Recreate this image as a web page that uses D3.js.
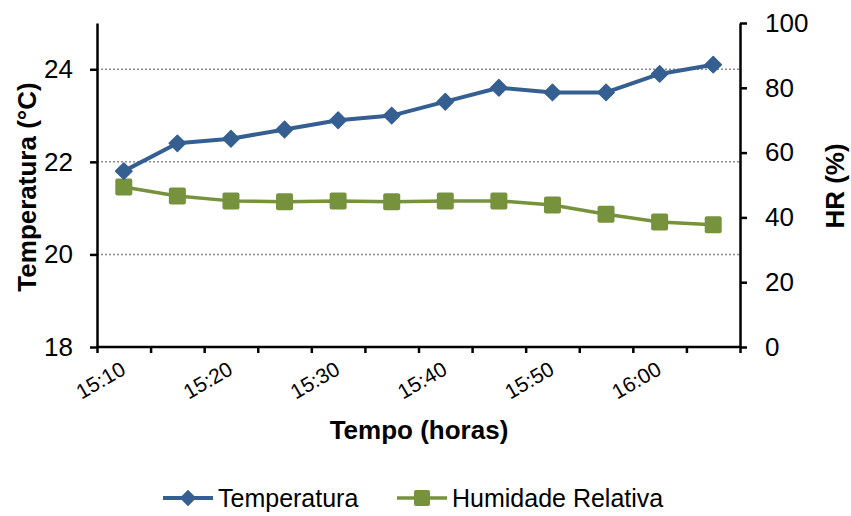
<!DOCTYPE html>
<html>
<head>
<meta charset="utf-8">
<script src="https://cdn.jsdelivr.net/npm/d3@7"></script>
<style>
  html, body { margin: 0; padding: 0; background: #fff; }
  svg { display: block; font-family: "Liberation Sans", Arial, sans-serif; }
</style>
</head>
<body>
<svg id="chart" width="851" height="516"></svg>
<script>
// Readings taken every 5 minutes
const times = ["15:10","15:15","15:20","15:25","15:30","15:35","15:40","15:45","15:50","15:55","16:00","16:05"];
const temperatura = [21.8, 22.4, 22.5, 22.7, 22.9, 23.0, 23.3, 23.6, 23.5, 23.5, 23.9, 24.1];
const humidade = [49.4, 46.6, 45.1, 44.8, 45.1, 44.8, 45.1, 45.1, 43.8, 41.0, 38.6, 37.7];
const xTickLabels = ["15:10","15:20","15:30","15:40","15:50","16:00"];
const tempTicks = [18, 20, 22, 24];
const hrTicks = [0, 20, 40, 60, 80, 100];

const blue = "#355F91";
const green = "#76923C";

const svg = d3.select("#chart");
const plotLeft = 97, plotRight = 740, plotTop = 23, plotBottom = 347;

// x: index scale, one band per reading, ticks on band edges
const x = d3.scaleLinear().domain([0, times.length]).range([plotLeft, plotRight]);
const yT = d3.scaleLinear().domain([18, 25]).range([plotBottom, plotTop]);
const yH = d3.scaleLinear().domain([0, 100]).range([plotBottom, plotTop]);

// dotted gridlines on the temperature ticks
svg.append("g").selectAll("line")
  .data(tempTicks.filter(t => t > 18))
  .join("line")
  .attr("x1", plotLeft).attr("x2", plotRight)
  .attr("y1", d => yT(d)).attr("y2", d => yT(d))
  .attr("stroke", "#8c8c8c").attr("stroke-width", 1.5)
  .attr("stroke-dasharray", "2,2");

function styleAxis(g) {
  g.selectAll(".domain").attr("stroke", "#000").attr("stroke-width", 2.5);
  g.selectAll(".tick line").attr("stroke", "#000").attr("stroke-width", 2.5);
  g.selectAll("text").attr("fill", "#000").attr("font-family", "Liberation Sans, Arial, sans-serif");
}

// left axis
const gL = svg.append("g").attr("transform", `translate(${plotLeft},0)`)
  .call(d3.axisLeft(yT).tickValues(tempTicks).tickSize(7).tickSizeOuter(0).tickPadding(17).tickFormat(d3.format("d")));
styleAxis(gL);
gL.selectAll("text").attr("font-size", 26);

// right axis
const gR = svg.append("g").attr("transform", `translate(${plotRight},0)`)
  .call(d3.axisRight(yH).tickValues(hrTicks).tickSize(7).tickSizeOuter(0).tickPadding(18).tickFormat(d3.format("d")));
styleAxis(gR);
gR.selectAll("text").attr("font-size", 26);

// bottom axis
const gB = svg.append("g").attr("transform", `translate(0,${plotBottom})`)
  .call(d3.axisBottom(x).tickValues(d3.range(times.length + 1)).tickSize(6).tickSizeOuter(0)
    .tickFormat(i => i % 2 === 0 ? (xTickLabels[i / 2] || "") : ""));
styleAxis(gB);
gB.selectAll(".domain").attr("d", `M${plotLeft},0H${plotRight}`);
gB.selectAll("text")
  .attr("font-size", 21)
  .attr("text-anchor", "middle")
  .attr("dy", null)
  .attr("y", 33)
  .attr("x", 3)
  .attr("dominant-baseline", "central")
  .attr("transform", "rotate(-30, 3, 33)");

// axis titles
svg.append("text").attr("x", 419).attr("y", 439)
  .attr("text-anchor", "middle").attr("font-size", 26).attr("font-weight", "bold")
  .text("Tempo (horas)");
svg.append("text").attr("transform", "translate(36,187) rotate(-90)")
  .attr("text-anchor", "middle").attr("font-size", 26).attr("font-weight", "bold")
  .text("Temperatura (°C)");
svg.append("text").attr("transform", "translate(844,186) rotate(-90)")
  .attr("text-anchor", "middle").attr("font-size", 26).attr("font-weight", "bold")
  .text("HR (%)");

const cx = i => x(i + 0.5);

// humidity series (squares)
svg.append("path").datum(humidade)
  .attr("fill", "none").attr("stroke", green).attr("stroke-width", 3.5)
  .attr("stroke-linejoin", "round")
  .attr("d", d3.line().x((d, i) => cx(i)).y(d => yH(d)));
svg.append("g").selectAll("rect").data(humidade).join("rect")
  .attr("x", (d, i) => cx(i) - 8.5).attr("y", d => yH(d) - 8.5)
  .attr("width", 17).attr("height", 17).attr("rx", 2)
  .attr("fill", green);

// temperature series (diamonds)
const diamond = d3.symbol().type(d3.symbolDiamond2).size(170);
svg.append("path").datum(temperatura)
  .attr("fill", "none").attr("stroke", blue).attr("stroke-width", 4)
  .attr("stroke-linejoin", "round")
  .attr("d", d3.line().x((d, i) => cx(i)).y(d => yT(d)));
svg.append("g").selectAll("path").data(temperatura).join("path")
  .attr("transform", (d, i) => `translate(${cx(i)},${yT(d)})`)
  .attr("d", diamond)
  .attr("fill", blue).attr("stroke", blue).attr("stroke-width", 1.5).attr("stroke-linejoin", "round");

// legend
const legendY = 498;
const lg1 = svg.append("g").attr("transform", `translate(163,${legendY})`);
lg1.append("line").attr("x1", 0).attr("x2", 50).attr("stroke", blue).attr("stroke-width", 4);
lg1.append("path").attr("transform", "translate(25,0)").attr("d", d3.symbol().type(d3.symbolDiamond2).size(130))
  .attr("fill", blue).attr("stroke", blue).attr("stroke-width", 1.5).attr("stroke-linejoin", "round");
lg1.append("text").attr("x", 55).attr("y", 0).attr("dy", "0.35em").attr("font-size", 25).text("Temperatura");

const lg2 = svg.append("g").attr("transform", `translate(397,${legendY})`);
lg2.append("line").attr("x1", 0).attr("x2", 50).attr("stroke", green).attr("stroke-width", 3.5);
lg2.append("rect").attr("x", 17).attr("y", -8).attr("width", 16).attr("height", 16).attr("rx", 2).attr("fill", green);
lg2.append("text").attr("x", 55).attr("y", 0).attr("dy", "0.35em").attr("font-size", 25).text("Humidade Relativa");
</script>
</body>
</html>
